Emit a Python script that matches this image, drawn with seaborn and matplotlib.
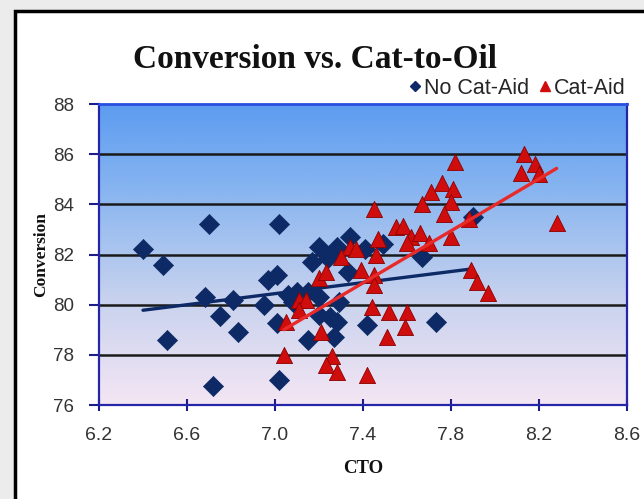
import numpy as np
import pandas as pd
import matplotlib
matplotlib.use("Agg")
import matplotlib.pyplot as plt
from matplotlib.patches import Rectangle
from matplotlib.lines import Line2D
from matplotlib.colors import LinearSegmentedColormap
import seaborn as sns

# ---- data ----
no_aid_cto = [6.40, 6.49, 6.51, 6.70, 6.68, 6.81, 6.75, 6.83, 6.72, 6.95,
              6.97, 7.01, 7.02, 7.01, 7.02, 7.06, 7.10, 7.08, 7.15, 7.20,
              7.20, 7.17, 7.24, 7.28, 7.34, 7.41, 7.33, 7.29, 7.20, 7.25,
              7.28, 7.15, 7.27, 7.42, 7.49, 7.67, 7.73, 7.90]
no_aid_conv = [82.2, 81.6, 78.6, 83.2, 80.3, 80.2, 79.55, 78.9, 76.75, 80.0,
               81.0, 81.2, 83.2, 79.25, 77.0, 80.4, 80.5, 80.1, 80.5, 80.3,
               82.3, 81.7, 81.85, 82.3, 82.7, 82.2, 81.3, 80.1, 79.6, 79.5,
               79.3, 78.6, 78.7, 79.2, 82.4, 81.9, 79.3, 83.5]

aid_cto = [7.82, 7.76, 7.71, 7.81, 7.67, 7.80, 7.77, 7.45, 7.55, 7.58,
           7.62, 7.66, 7.60, 7.70, 7.80, 7.34, 7.37, 7.30, 7.47, 7.46,
           7.20, 7.23, 7.39, 7.45, 7.45, 7.11, 7.14, 7.11, 7.05, 7.44,
           7.52, 7.60, 7.51, 7.59, 7.21, 7.04, 7.26, 7.23, 7.28, 7.42,
           8.13, 8.18, 8.12, 8.20, 7.88, 8.28, 7.89, 7.92, 7.97]
aid_conv = [85.7, 84.85, 84.5, 84.6, 84.0, 84.1, 83.6, 83.8, 83.1, 83.15,
            82.7, 82.85, 82.45, 82.45, 82.7, 82.3, 82.2, 81.9, 82.6, 82.0,
            81.05, 81.3, 81.4, 81.2, 80.8, 80.2, 80.2, 79.8, 79.3, 79.9,
            79.7, 79.7, 78.7, 79.1, 78.9, 78.0, 77.95, 77.6, 77.3, 77.2,
            86.0, 85.6, 85.25, 85.2, 83.4, 83.25, 81.4, 80.9, 80.45]

x_ticks = [6.2, 6.6, 7.0, 7.4, 7.8, 8.2, 8.6]
y_ticks = [76, 78, 80, 82, 84, 86, 88]

df_no = pd.DataFrame({"CTO": no_aid_cto, "Conversion": no_aid_conv})
df_aid = pd.DataFrame({"CTO": aid_cto, "Conversion": aid_conv})

blue = "#0d2a66"
red = "#d00d0d"

sns.set_style("white")
plt.rcParams["font.family"] = ["Liberation Sans", "DejaVu Sans"]

W, H = 644, 499
fig = plt.figure(figsize=(W / 100, H / 100), dpi=100, facecolor="#ececec")

# white chart area with black border
fig.patches.append(Rectangle((15 / W, -0.05), 1.1, 1 - 11 / H + 0.05,
                             transform=fig.transFigure, facecolor="white",
                             edgecolor="black", linewidth=2.5, zorder=-5))

ax = fig.add_axes([99 / W, 1 - 405 / H, (627 - 99) / W, (405 - 104) / H])
ax.set_facecolor("none")

# gradient background
cmap = LinearSegmentedColormap.from_list(
    "bg", [(0.0, "#f4e6f4"), (0.35, "#c8d2ee"), (0.7, "#8ab6f0"), (1.0, "#5c9cf0")])
grad = np.linspace(0, 1, 256).reshape(-1, 1)
ax.imshow(grad, extent=[0, 1, 0, 1], transform=ax.transAxes, cmap=cmap,
          aspect="auto", origin="lower", zorder=0)

# gridlines
for yv in y_ticks[1:-1]:
    ax.axhline(yv, color="#1a1a1a", lw=1.8, zorder=1)

sns.regplot(data=df_no, x="CTO", y="Conversion", scatter=False, ci=None,
            truncate=True, ax=ax, line_kws=dict(color=blue, lw=2.4, zorder=2))
sns.scatterplot(data=df_no, x="CTO", y="Conversion", marker="D", s=105,
                color=blue, edgecolor=blue, linewidth=0.5, ax=ax, zorder=3)
sns.scatterplot(data=df_aid, x="CTO", y="Conversion", marker="^", s=135,
                color=red, edgecolor="#8a0000", linewidth=0.6, ax=ax, zorder=4)
sns.regplot(data=df_aid, x="CTO", y="Conversion", scatter=False, ci=None,
            truncate=True, ax=ax, line_kws=dict(color="#e82a2a", lw=2.4, zorder=5))

ax.set_xlim(6.2, 8.6)
ax.set_ylim(76, 88)
ax.set_xticks(x_ticks)
ax.set_xticklabels([f"{v:.1f}" for v in x_ticks])
ax.set_yticks(y_ticks)
ax.set_yticklabels([str(v) for v in y_ticks])
ax.tick_params(axis="x", direction="inout", length=9, width=1.5, color="#1c1c8c",
               labelsize=14, labelcolor="#333333", pad=11)
ax.tick_params(axis="y", direction="out", length=7, width=1.5, color="#1c1c8c",
               labelsize=13.5, labelcolor="#333333", pad=11, left=True)
ax.tick_params(axis="x", bottom=True)
for side in ["left", "right", "bottom", "top"]:
    ax.spines[side].set_visible(True)
    ax.spines[side].set_color("#2525a8")
    ax.spines[side].set_linewidth(1.6)
ax.spines["top"].set_color("#2a4ee0")
ax.spines["top"].set_linewidth(2.0)

ax.set_xlabel("CTO", family=["Liberation Serif"], fontweight="bold",
              fontsize=13.5, labelpad=12, color="#111111")
ax.set_ylabel("Conversion", family=["Liberation Serif"], fontweight="bold",
              fontsize=12.5, labelpad=3, color="#111111")

fig.text(315 / W, 1 - 59 / H, "Conversion vs. Cat-to-Oil", ha="center",
         va="center", family=["Liberation Serif"], fontweight="bold",
         fontsize=24, color="#111111")

handles = [Line2D([], [], marker="D", ls="", color=blue, markersize=5.5),
           Line2D([], [], marker="^", ls="", color=red, markersize=7.5)]
fig.legend(handles, ["No Cat-Aid", "Cat-Aid"], loc="center right",
           bbox_to_anchor=(626 / W, 1 - 88 / H), ncol=2, frameon=False,
           handletextpad=0.05, columnspacing=0.3, handlelength=0.8,
           fontsize=15.5, borderpad=0, borderaxespad=0)

fig.savefig("out.png", dpi=100, facecolor=fig.get_facecolor())
